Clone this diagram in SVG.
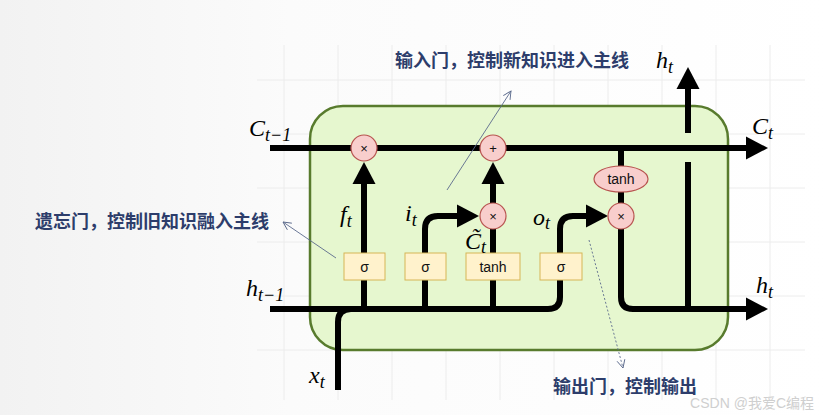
<svg xmlns="http://www.w3.org/2000/svg" width="826" height="415" viewBox="0 0 826 415">
<defs>
<linearGradient id="bg" x1="0" y1="0" x2="1" y2="0">
<stop offset="0" stop-color="#f2f2f2"/>
<stop offset="0.35" stop-color="#fbfbfb"/>
<stop offset="1" stop-color="#ffffff"/>
</linearGradient>
<marker id="ah" markerUnits="userSpaceOnUse" markerWidth="23" markerHeight="23" refX="0" refY="11.5" orient="auto" overflow="visible">
<path d="M0,0 L22,11.5 L0,23 Z" fill="#000"/>
</marker>
<marker id="thin" markerUnits="userSpaceOnUse" markerWidth="10" markerHeight="10" refX="8" refY="4" orient="auto" overflow="visible">
<path d="M0,0 L8,4 L0,8" fill="none" stroke="#5b6a8c" stroke-width="0.9"/>
</marker>
</defs>
<style>
.ln{fill:none;stroke:#000;stroke-width:6;stroke-linecap:butt;stroke-linejoin:round}
.gate{fill:#fff2cc;stroke:#d6b656;stroke-width:1}
.op{fill:#f8cecc;stroke:#b85450;stroke-width:1.2}
.gt{font-family:"Liberation Sans",Arial,sans-serif;font-size:14px;fill:#111;text-anchor:middle}
.opt{font-family:"Liberation Sans",Arial,sans-serif;font-size:13px;fill:#111;text-anchor:middle}
.m{font-family:"Liberation Serif","Times New Roman",serif;font-style:italic;fill:#000}
.mb{font-size:24px}
.ms{font-size:18px}
.note{font-family:"Noto Sans CJK SC","Noto Sans",sans-serif;font-weight:bold;font-size:18px;fill:#2d3d6b}
.grid{stroke:#ececec;stroke-width:1}
.ann{fill:none;stroke:#5b6a8c;stroke-width:0.9}
</style>
<rect width="826" height="415" fill="url(#bg)"/>
<g id="grid">
<path class="grid" d="M284 45V400M338 45V400M392 45V400M446 45V400M500 45V400M554 45V400M608 45V400M662 45V400M716 45V400M770 45V400M257 80H805M257 134H805M257 188H805M257 242H805M257 296H805M257 350H805"/>
</g>
<g id="cell">
<rect x="310" y="106" width="418" height="244" rx="33" ry="33" fill="#e6f7cf" stroke="#587b2d" stroke-width="2.5"/>
</g>
<g id="connectors">
<path class="ln" d="M270 148H746" marker-end="url(#ah)"/>
<path class="ln" d="M364 309V184" marker-end="url(#ah)"/>
<path class="ln" d="M425 309V229Q425 216 438 216H457" marker-end="url(#ah)"/>
<path class="ln" d="M493 309V229"/>
<path class="ln" d="M493 203V184" marker-end="url(#ah)"/>
<path class="ln" d="M270 309H548Q560 309 560 297V229Q560 216 573 216H586" marker-end="url(#ah)"/>
<path class="ln" d="M338 390V322Q338 309 351 309"/>
<path class="ln" d="M621 148V166M621 192V203"/>
<path class="ln" d="M621 229V297Q621 309 633 309H746" marker-end="url(#ah)"/>
<path class="ln" d="M688 162V309"/>
<path class="ln" d="M688 133V89" marker-end="url(#ah)"/>
</g>
<g id="forget_sigma"><rect class="gate" x="344" y="253" width="41" height="27"/><text class="gt" x="364.5" y="271.5">σ</text></g>
<g id="input_sigma"><rect class="gate" x="405" y="253" width="41" height="27"/><text class="gt" x="425.5" y="271.5">σ</text></g>
<g id="cand_tanh"><rect class="gate" x="466" y="253" width="54" height="27"/><text class="gt" x="493" y="271.5">tanh</text></g>
<g id="output_sigma"><rect class="gate" x="540" y="253" width="42" height="27"/><text class="gt" x="561" y="271.5">σ</text></g>
<g id="forget_mul"><circle class="op" cx="364" cy="148" r="13"/><text class="opt" x="364" y="152.5">×</text></g>
<g id="add"><circle class="op" cx="493" cy="148" r="13"/><text class="opt" x="493" y="152.5">+</text></g>
<g id="input_mul"><circle class="op" cx="493" cy="216" r="13"/><text class="opt" x="493" y="220.5">×</text></g>
<g id="out_tanh"><ellipse class="op" cx="621" cy="179" rx="27" ry="13"/><text class="gt" x="621" y="184">tanh</text></g>
<g id="output_mul"><circle class="op" cx="621" cy="216" r="13"/><text class="opt" x="621" y="220.5">×</text></g>
<g id="labels">
<text class="m" x="249" y="136"><tspan class="mb">C</tspan><tspan class="ms" dy="5">t−1</tspan></text>
<text class="m" x="752" y="134"><tspan class="mb">C</tspan><tspan class="ms" dy="5">t</tspan></text>
<text class="m" x="656" y="68"><tspan class="mb">h</tspan><tspan class="ms" dy="5">t</tspan></text>
<text class="m" x="756" y="293"><tspan class="mb">h</tspan><tspan class="ms" dy="5">t</tspan></text>
<text class="m" x="246" y="296"><tspan class="mb">h</tspan><tspan class="ms" dy="5">t−1</tspan></text>
<text class="m" x="309" y="383"><tspan class="mb">x</tspan><tspan class="ms" dy="5">t</tspan></text>
<text class="m" x="340" y="222"><tspan class="mb">f</tspan><tspan class="ms" dy="5">t</tspan></text>
<text class="m" x="405" y="221"><tspan class="mb">i</tspan><tspan class="ms" dy="5">t</tspan></text>
<text class="m" x="465" y="249"><tspan class="mb">C&#x303;</tspan><tspan class="ms" dy="4">t</tspan></text>
<text class="m" x="533" y="225"><tspan class="mb">o</tspan><tspan class="ms" dy="4">t</tspan></text>
</g>
<g id="notes">
<text class="note" x="395" y="67">输入门，控制新知识进入主线</text>
<text class="note" x="35" y="228">遗忘门，控制旧知识融入主线</text>
<text class="note" x="553" y="393">输出门，控制输出</text>
<path class="ann" d="M336 258L283 222" marker-end="url(#thin)"/>
<path class="ann" d="M447 190L511 91" marker-end="url(#thin)"/>
<path class="ann" d="M589 240L623 368" stroke-dasharray="2 2" marker-end="url(#thin)"/>
</g>
<text x="814" y="408" text-anchor="end" font-family="Liberation Sans,Noto Sans CJK SC,sans-serif" font-size="14" fill="#cfcfcf">CSDN @我爱C编程</text>
</svg>
